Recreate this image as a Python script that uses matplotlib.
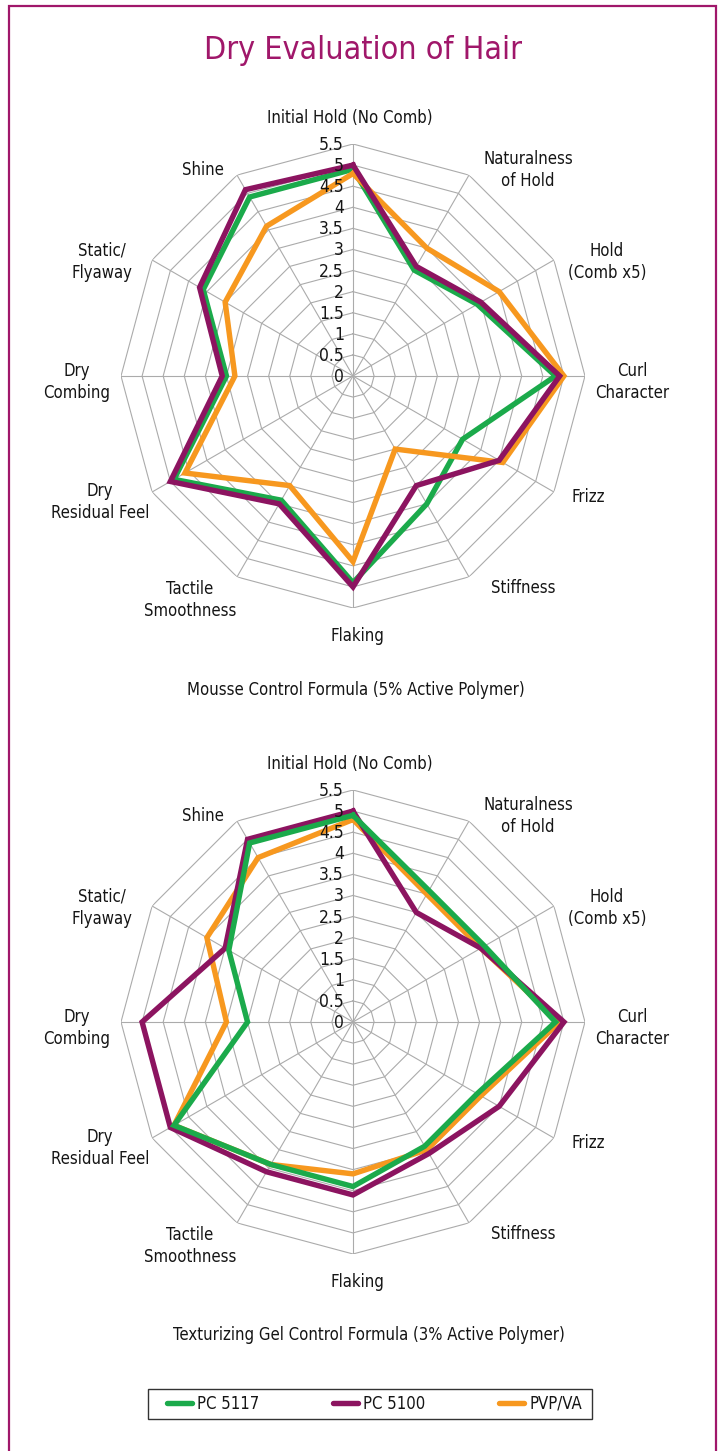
import numpy as np
import matplotlib
matplotlib.use("Agg")
import matplotlib.pyplot as plt
from matplotlib import font_manager
from matplotlib.lines import Line2D
from matplotlib.patches import Rectangle

# ---------------- data ----------------
categories = ["Initial Hold (No Comb)", "Naturalness\nof Hold", "Hold\n(Comb x5)",
              "Curl\nCharacter", "Frizz", "Stiffness", "Flaking",
              "Tactile\nSmoothness", "Dry\nResidual Feel", "Dry\nCombing",
              "Static/\nFlyaway", "Shine"]

series_names = ["PC 5117", "PC 5100", "PVP/VA"]

mousse_pc5117 = [4.9, 2.9, 3.4, 4.8, 3.0, 3.5, 4.9, 3.4, 4.9, 3.0, 4.1, 4.9]
mousse_pc5100 = [5.0, 3.0, 3.5, 4.9, 4.0, 3.0, 5.0, 3.5, 5.0, 3.1, 4.2, 5.1]
mousse_pvpva = [4.8, 3.5, 4.0, 5.0, 4.1, 2.0, 4.4, 3.0, 4.6, 2.8, 3.5, 4.1]

gel_pc5117 = [4.9, 3.6, 3.6, 4.8, 3.4, 3.4, 3.9, 3.9, 4.9, 2.5, 3.4, 4.9]
gel_pc5100 = [5.0, 3.0, 3.5, 5.0, 4.0, 3.6, 4.1, 4.1, 5.0, 5.0, 3.5, 5.0]
gel_pvpva = [4.8, 3.5, 3.5, 4.9, 3.5, 3.5, 3.6, 3.9, 4.9, 3.0, 4.0, 4.5]

radial_ticks = [0, 0.5, 1, 1.5, 2, 2.5, 3, 3.5, 4, 4.5, 5, 5.5]
radial_tick_labels = ["0", "0.5", "1", "1.5", "2", "2.5", "3", "3.5", "4", "4.5", "5", "5.5"]

title = "Dry Evaluation of Hair"
subtitle_mousse = "Mousse Control Formula (5% Active Polymer)"
subtitle_gel = "Texturizing Gel Control Formula (3% Active Polymer)"

# ---------------- style ----------------
colors = {"PC 5117": "#1BAA4B", "PC 5100": "#8C1460", "PVP/VA": "#F7981F"}
frame_color = "#A0176A"
grid_color = "#ABABAB"
text_color = "#151515"

names = {f.name for f in font_manager.fontManager.ttflist}
if "Liberation Sans Narrow" in names:
    FONT = dict(family="Liberation Sans Narrow")
else:
    FONT = dict(family="DejaVu Sans", stretch="condensed")

W, H = 719, 1451
fig = plt.figure(figsize=(W / 100, H / 100), dpi=100)

# outer border (open at bottom)
fig.patches.append(Rectangle((9 / W, -0.02), (716 - 9) / W, 1.02 - 6 / H,
                             transform=fig.transFigure, fill=False,
                             edgecolor=frame_color, linewidth=1.6))

fig.text(363 / W, 1 - 50 / H, title, ha="center", va="center",
         fontsize=23, color=frame_color, **FONT)

# label offsets from chart centre, in pixels (x right, y up)
label_offsets = [(-3, 258), (175, 206), (254, 114), (279, -6), (235, -121),
                 (170, -212), (4, -260), (-163, -224), (-253, -126),
                 (-276, -6), (-251, 114), (-150, 206)]

R = 232
PT = 0.72  # px -> pt at 100 dpi


def radar(cx, cy, data, order):
    ax = fig.add_axes([(cx - R) / W, 1 - (cy + R) / H, 2 * R / W, 2 * R / H],
                      projection="polar")
    ax.set_theta_zero_location("N")
    ax.set_theta_direction(-1)
    ax.set_ylim(0, radial_ticks[-1])
    ax.grid(False)
    ax.set_xticks([])
    ax.set_yticks([])
    ax.spines["polar"].set_visible(False)
    ax.patch.set_visible(False)

    n = len(categories)
    ang = np.arange(n) * 2 * np.pi / n
    closed = np.append(ang, ang[0])
    for r in radial_ticks[1:]:
        ax.plot(closed, np.full(n + 1, r), color=grid_color, lw=0.8, zorder=1)
    for a in ang:
        ax.plot([a, a], [0, radial_ticks[-1]], color=grid_color, lw=0.8, zorder=1)

    for z, name in enumerate(order):
        vals = data[name]
        ax.plot(closed, np.append(vals, vals[0]), color=colors[name], lw=3.9,
                solid_joinstyle="miter", zorder=3 + z, clip_on=False)

    for r, lbl in zip(radial_ticks, radial_tick_labels):
        ax.annotate(lbl, xy=(0, r), xytext=(-9 * PT, -1 * PT),
                    textcoords="offset points", ha="right", va="center",
                    fontsize=12.5, color=text_color, zorder=6, **FONT)

    for cat, (dx, dy) in zip(categories, label_offsets):
        ax.annotate(cat, xy=(0, 0), xytext=(dx * PT, dy * PT),
                    textcoords="offset points", ha="center", va="center",
                    multialignment="center", linespacing=1.3,
                    fontsize=12, color=text_color, **FONT)
    return ax


radar(353, 376, {"PC 5117": mousse_pc5117, "PC 5100": mousse_pc5100,
                 "PVP/VA": mousse_pvpva}, ["PC 5117", "PVP/VA", "PC 5100"])
fig.text(356 / W, 1 - 690 / H, subtitle_mousse, ha="center", va="center",
         fontsize=12, color=text_color, **FONT)

radar(353, 1022, {"PC 5117": gel_pc5117, "PC 5100": gel_pc5100,
                  "PVP/VA": gel_pvpva}, ["PVP/VA", "PC 5100", "PC 5117"])
fig.text(369 / W, 1 - 1335 / H, subtitle_gel, ha="center", va="center",
         fontsize=12, color=text_color, **FONT)

# legend: frame drawn separately, entries spread inside it
fig.patches.append(Rectangle((148 / W, 1 - 1419 / H), 444 / W, 30 / H,
                             transform=fig.transFigure, facecolor="white",
                             edgecolor="#333333", linewidth=1.0, zorder=5))
handles = [Line2D([], [], color=colors[s], lw=3.9, solid_capstyle="round")
           for s in series_names]
leg = fig.legend(handles, series_names, loc="center", ncol=3, mode="expand",
                 bbox_to_anchor=(167 / W, 1 - 1419 / H, (582 - 167) / W, 30 / H),
                 frameon=False, borderaxespad=0, borderpad=0,
                 handlelength=1.5, handletextpad=0.3,
                 prop=dict(size=12, **FONT))
leg.set_zorder(6)
for t in leg.get_texts():
    t.set_color(text_color)

fig.savefig("out.png", dpi=100)
